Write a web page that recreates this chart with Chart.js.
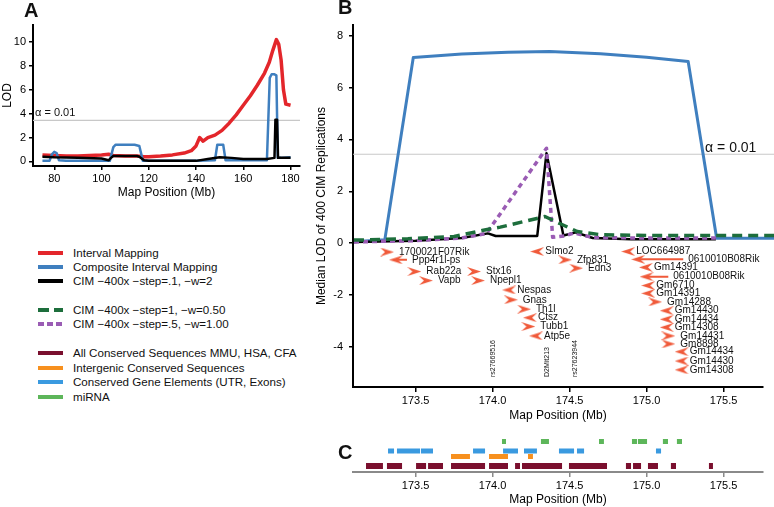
<!DOCTYPE html>
<html lang="en">
<head>
  <meta charset="UTF-8">
  <title>QTL scan, chromosome 2</title>
  <script src="https://cdn.jsdelivr.net/npm/chart.js"></script>
  <style>
    body { margin: 0; background: #fff; font-family: "Liberation Sans", Arial, sans-serif; color: #111; }
    #page { position: relative; width: 774px; height: 507px; overflow: hidden; }
    canvas { position: absolute; }
    .tag { position: absolute; font-weight: bold; font-size: 20px; line-height: 20px; }
    .leg { position: absolute; left: 38px; font-size: 11.6px; line-height: 12px; white-space: nowrap; }
    .leg i { display: inline-block; width: 25px; height: 4px; vertical-align: middle; margin-right: 10px; position: relative; top: -1px; }
  </style>
</head>
<body>
<div id="page">
  <canvas id="chartA" width="310" height="210" style="left:0;top:0"></canvas>
  <canvas id="chartB" width="474" height="425" style="left:300px;top:0"></canvas>
  <canvas id="chartC" width="474" height="82" style="left:300px;top:425px"></canvas>

  <div class="tag" style="left:24px;top:0">A</div>
  <div class="tag" style="left:338px;top:-3px">B</div>
  <div class="tag" style="left:338px;top:442px">C</div>

  <div class="leg" style="top:247px"><i style="background:#e3262b"></i>Interval Mapping</div>
  <div class="leg" style="top:261px"><i style="background:#3f7fbf"></i>Composite Interval Mapping</div>
  <div class="leg" style="top:275px"><i style="background:#000"></i>CIM −400x −step=.1, −w=2</div>
  <div class="leg" style="top:304px"><i style="background:repeating-linear-gradient(90deg,#1d6e3c 0 11px,transparent 11px 16px)"></i>CIM −400x −step=1,  −w=0.50</div>
  <div class="leg" style="top:318px"><i style="background:repeating-linear-gradient(90deg,#9a5cb4 0 6px,transparent 6px 9px)"></i>CIM −400x −step=.5, −w=1.00</div>
  <div class="leg" style="top:347px"><i style="background:#7a0f2e"></i>All Conserved Sequences MMU, HSA, CFA</div>
  <div class="leg" style="top:362px"><i style="background:#f7901e"></i>Intergenic Conserved Sequences</div>
  <div class="leg" style="top:376px"><i style="background:#3a9ae0"></i>Conserved Gene Elements (UTR, Exons)</div>
  <div class="leg" style="top:391px"><i style="background:#5db65a"></i>miRNA</div>
</div>

<script>
  const ALPHA = 3.43;

  // Panel A: whole-chromosome scan (position in Mb, LOD)
  const imPos = [75, 80, 85, 90, 95, 100, 103, 105, 110, 115, 118, 120, 125, 130, 135, 138, 140, 141.5, 143, 145, 148, 151, 154, 157, 160, 163, 166, 169, 171, 172.5, 174, 175, 176, 177, 178, 180];
  const imLod = [0.55, 0.5, 0.45, 0.45, 0.5, 0.55, 0.6, 0.5, 0.45, 0.45, 0.4, 0.4, 0.45, 0.55, 0.7, 0.9, 1.3, 2.0, 1.7, 2.0, 2.2, 2.6, 3.2, 3.9, 4.7, 5.5, 6.4, 7.4, 8.3, 9.3, 10.2, 9.8, 8.5, 6.0, 4.8, 4.7];
  const cimPos = [75, 78, 79, 80, 81, 82, 85, 90, 95, 100, 103.5, 105, 106, 114, 116, 117.5, 120, 130, 140, 148, 149, 151.5, 152.5, 160, 170, 171.2, 172, 173, 174, 174.6, 176, 180];
  const cimLod = [0.05, 0.05, 0.6, 0.8, 0.7, 0.1, 0.05, 0.05, 0.05, 0.05, 0.05, 1.2, 1.4, 1.4, 1.3, 0.05, 0.05, 0.05, 0.05, 0.1, 1.4, 1.4, 0.1, 0.1, 0.1, 7.0, 7.3, 7.3, 7.2, 0.3, 0.3, 0.35];
  const c400Pos = [75, 80, 90, 100, 103, 104, 105, 115, 116, 118, 120, 130, 140, 145, 150, 155, 160, 170, 173.2, 173.6, 174.3, 174.7, 176, 180];
  const c400Lod = [0.4, 0.35, 0.3, 0.25, 0.1, 0.3, 0.45, 0.45, 0.4, 0.1, 0.05, 0.05, 0.05, 0.2, 0.35, 0.3, 0.2, 0.2, 0.3, 3.5, 3.5, 0.3, 0.3, 0.3];
  const aTicksX = [80, 100, 120, 140, 160, 180];
  const aTicksY = [0, 2, 4, 6, 8, 10];

  // Panel B: zoom on the peak, median LOD of the replications
  const bCimPos = [173.10, 173.30, 173.485, 173.8, 174.1, 174.37, 174.7, 175.0, 175.27, 175.455, 175.83];
  const bCimLod = [0.06, 0.13, 7.16, 7.29, 7.36, 7.39, 7.3, 7.17, 7.0, 0.19, 0.19];
  const bBlackPos = [173.10, 173.5, 173.8, 173.97, 174.02, 174.29, 174.35, 174.46, 174.54, 174.65, 174.9, 175.45];
  const bBlackLod = [0.05, 0.1, 0.2, 0.38, 0.28, 0.28, 3.47, 0.3, 0.42, 0.2, 0.15, 0.15];
  const bPurplePos = [173.10, 173.5, 173.8, 173.96, 174.35, 174.39, 174.47, 174.53, 174.65, 175.0, 175.45];
  const bPurpleLod = [0.05, 0.1, 0.2, 0.38, 3.66, 0.23, 0.28, 0.4, 0.22, 0.2, 0.2];
  const bGreenPos = [173.10, 173.45, 173.75, 173.94, 174.05, 174.34, 174.44, 174.55, 174.7, 175.0, 175.83];
  const bGreenLod = [0.12, 0.17, 0.26, 0.5, 0.62, 1.03, 0.75, 0.45, 0.33, 0.3, 0.3];
  const bTicksX = [173.5, 174.0, 174.5, 175.0, 175.5];
  const bTicksY = [-4, -2, 0, 2, 4, 6, 8];

  // genes under the peak: arrow position (Mb), gene end for long ones, row (LOD units), strand
  const geneName = ['1700021F07Rik', 'Ppp4r1l-ps', 'Rab22a', 'Vapb', 'Stx16', 'Npepl1', 'Nespas', 'Gnas', 'Th1l', 'Ctsz', 'Tubb1', 'Atp5e',
    'Slmo2', 'Zfp831', 'Edn3', 'LOC664987', '0610010B08Rik', 'Gm14391', '0610010B08Rik', 'Gm6710', 'Gm14391', 'Gm14288',
    'Gm14430', 'Gm14434', 'Gm14308', 'Gm14431', 'Gm8898', 'Gm14434', 'Gm14430', 'Gm14308'];
  const genePos = [173.314, 173.373, 173.492, 173.567, 173.879, 173.905, 174.108, 174.118, 174.204, 174.243, 174.232, 174.282,
    174.29, 174.47, 174.542, 174.881, 174.946, 174.996, 175.0, 175.011, 175.011, 175.055,
    175.131, 175.131, 175.131, 175.141, 175.141, 175.228, 175.228, 175.228];
  const geneEnd = [null, 173.444, null, null, null, null, null, null, null, null, null, null,
    null, null, null, null, 175.238, null, 175.141, null, null, null,
    null, null, null, null, null, null, null, null];
  const geneLod = [-0.34, -0.64, -1.09, -1.44, -1.09, -1.44, -1.8, -2.18, -2.54, -2.87, -3.21, -3.57,
    -0.32, -0.64, -0.96, -0.32, -0.62, -0.93, -1.29, -1.63, -1.93, -2.26,
    -2.6, -2.93, -3.24, -3.57, -3.88, -4.18, -4.54, -4.88];
  const geneDir = [1, -1, 1, 1, 1, 1, -1, 1, 1, -1, 1, -1,
    -1, 1, 1, -1, -1, -1, -1, -1, -1, 1,
    -1, -1, -1, 1, 1, -1, -1, -1];
  const markerName = ['rs27669516', 'D2Mit213', 'rs27623944'];
  const markerPos = [174.0, 174.353, 174.535];

  // Panel C: conserved elements, [start, end] in Mb
  const consAll = [[173.178, 173.288], [173.314, 173.412], [173.503, 173.568], [173.581, 173.678], [173.730, 173.951], [173.977, 174.100],
    [174.146, 174.178], [174.191, 174.451], [174.496, 174.743], [174.866, 174.899], [174.912, 174.964], [175.009, 175.074],
    [175.158, 175.191], [175.405, 175.431]];
  const consInter = [[173.730, 173.853], [173.977, 174.100], [174.230, 174.262]];
  const consGene = [[173.321, 173.360], [173.379, 173.529], [173.535, 173.613], [173.873, 173.951], [174.068, 174.165],
    [174.204, 174.288], [174.431, 174.529], [174.548, 174.594], [175.061, 175.094]];
  const mirna = [[174.061, 174.087], [174.314, 174.366], [174.691, 174.723], [174.905, 174.938], [174.944, 175.003],
    [175.106, 175.139], [175.197, 175.230]];

  const RED = '#e3262b', BLUE = '#3f7fbf', GREEN = '#1d6e3c', PURPLE = '#9a5cb4', ARROW = '#f05a3a';
  const FONT = '"Liberation Sans", Arial, sans-serif';
  Chart.defaults.font.family = FONT;
  Chart.defaults.color = '#000';

  const pts = (xs, ys) => xs.map((x, i) => ({ x: x, y: ys[i] }));
  const segs = (list, row) => list.flatMap(s => [{ x: s[0], y: row }, { x: s[1], y: row }, { x: s[1], y: null }]);
  const fixSize = n => s => { if (s.isHorizontal()) s.height = n; else s.width = n; };
  const useTicks = arr => s => { s.ticks = arr.map(v => ({ value: v })); };

  function arrowImg(dir) {
    const c = document.createElement('canvas');
    c.width = 14; c.height = 9;
    const g = c.getContext('2d');
    g.fillStyle = ARROW;
    g.beginPath();
    if (dir > 0) { g.moveTo(14, 4.5); g.lineTo(0, 0); g.lineTo(5, 4.5); g.lineTo(0, 9); }
    else { g.moveTo(0, 4.5); g.lineTo(14, 0); g.lineTo(9, 4.5); g.lineTo(14, 9); }
    g.closePath();
    g.fill();
    return c;
  }
  const arrowR = arrowImg(1), arrowL = arrowImg(-1);

  function axis(color, tickLen) {
    return {
      grid: { display: true, drawOnChartArea: false, drawTicks: true, tickLength: tickLen, color: color, lineWidth: 1.5 },
      border: { display: true, color: color, width: 2 }
    };
  }
  const base = {
    responsive: false,
    animation: false,
    events: [],
    elements: { point: { radius: 0 }, line: { tension: 0, borderJoinStyle: 'round' } },
    plugins: { legend: { display: false }, tooltip: { enabled: false } }
  };

  // ---- A
  new Chart(document.getElementById('chartA'), {
    type: 'line',
    data: {
      datasets: [
        { data: pts(c400Pos, c400Lod), borderColor: '#000', borderWidth: 2.5 },
        { data: pts(cimPos, cimLod), borderColor: BLUE, borderWidth: 2.5 },
        { data: pts(imPos, imLod), borderColor: RED, borderWidth: 3.5 },
        { data: [{ x: 71, y: ALPHA }, { x: 184, y: ALPHA }], borderColor: '#c8c8c8', borderWidth: 1.2 }
      ]
    },
    options: Object.assign({}, base, {
      layout: { padding: { top: 25, right: 10, left: 0, bottom: 0 } },
      scales: {
        x: Object.assign(axis('#000', 4), {
          type: 'linear', min: 71, max: 184,
          afterFit: fixSize(44), afterBuildTicks: useTicks(aTicksX),
          ticks: { font: { size: 11 }, padding: 2, maxRotation: 0, autoSkip: false },
          title: { display: true, text: 'Map Position (Mb)', font: { size: 12 }, padding: { top: 0, bottom: 10 } }
        }),
        y: Object.assign(axis('#000', 4), {
          min: -0.38, max: 11.42,
          afterFit: fixSize(33), afterBuildTicks: useTicks(aTicksY),
          ticks: { font: { size: 11 }, padding: 3 },
          title: { display: true, text: 'LOD', font: { size: 12 }, padding: 0 }
        })
      }
    }),
    plugins: [{
      id: 'alphaA',
      afterDatasetsDraw(chart) {
        const { ctx, scales: { x, y } } = chart;
        ctx.save();
        ctx.font = '11px ' + FONT;
        ctx.fillStyle = '#111';
        ctx.fillText('α = 0.01', x.left + 2, y.getPixelForValue(ALPHA) - 4);
        ctx.restore();
      }
    }]
  });

  // ---- B
  new Chart(document.getElementById('chartB'), {
    type: 'line',
    data: {
      datasets: [
        {
          data: pts(genePos, geneLod), showLine: false, pointRadius: 4,
          pointStyle: c => geneDir[c.dataIndex] > 0 ? arrowR : arrowL
        },
        {
          data: geneName.flatMap((n, i) => geneEnd[i] == null ? [] :
            [{ x: genePos[i], y: geneLod[i] }, { x: geneEnd[i], y: geneLod[i] }, { x: geneEnd[i], y: null }]),
          borderColor: ARROW, borderWidth: 2
        },
        { data: pts(bGreenPos, bGreenLod), borderColor: GREEN, borderWidth: 3.5, borderDash: [10, 6], clip: false },
        { data: pts(bPurplePos, bPurpleLod), borderColor: PURPLE, borderWidth: 3.5, borderDash: [5, 4], clip: false },
        { data: pts(bBlackPos, bBlackLod), borderColor: '#000', borderWidth: 2.5, clip: false },
        { data: pts(bCimPos, bCimLod), borderColor: BLUE, borderWidth: 3, clip: false },
        { data: [{ x: 173.0935, y: ALPHA }, { x: 175.83, y: ALPHA }], borderColor: '#c8c8c8', borderWidth: 1.2, clip: false }
      ]
    },
    options: Object.assign({}, base, {
      layout: { padding: { top: 25, right: 11, left: 0, bottom: 0 } },
      scales: {
        x: Object.assign(axis('#000', 5), {
          type: 'linear', min: 173.0935, max: 175.756,
          afterFit: fixSize(38), afterBuildTicks: useTicks(bTicksX),
          ticks: { font: { size: 11 }, padding: 2, maxRotation: 0, autoSkip: false, callback: v => v.toFixed(1) },
          title: { display: true, text: 'Map Position (Mb)', font: { size: 12 }, padding: { top: 0, bottom: 2 } }
        }),
        y: Object.assign(axis('#000', 4), {
          min: -5.54, max: 8.41,
          afterFit: fixSize(53), afterBuildTicks: useTicks(bTicksY),
          ticks: { font: { size: 11 }, padding: 6 },
          title: { display: true, text: 'Median LOD of 400 CIM Replications', font: { size: 12 }, padding: { top: 14 } }
        })
      }
    }),
    plugins: [{
      id: 'geneLabels',
      afterDatasetsDraw(chart) {
        const { ctx, scales: { x, y } } = chart;
        ctx.save();
        ctx.fillStyle = '#111';
        ctx.textBaseline = 'middle';
        ctx.font = '10px ' + FONT;
        geneName.forEach((n, i) => {
          const tx = geneEnd[i] != null ? x.getPixelForValue(geneEnd[i]) + 5
            : x.getPixelForValue(genePos[i]) + (geneDir[i] > 0 ? 12 : 8);
          ctx.fillText(n, tx, y.getPixelForValue(geneLod[i]));
        });
        ctx.font = '7px ' + FONT;
        markerName.forEach((n, i) => {
          ctx.save();
          ctx.translate(x.getPixelForValue(markerPos[i]), y.bottom - 10);
          ctx.rotate(-Math.PI / 2);
          ctx.fillText(n, 0, 0);
          ctx.restore();
        });
        ctx.font = '14px ' + FONT;
        ctx.textBaseline = 'alphabetic';
        ctx.fillText('α = 0.01', x.getPixelForValue(175.38), y.getPixelForValue(ALPHA) - 2);
        ctx.restore();
      }
    }]
  });

  // ---- C
  new Chart(document.getElementById('chartC'), {
    type: 'line',
    data: {
      datasets: [
        { data: segs(mirna, 30.5), borderColor: '#5db65a', borderWidth: 5, borderCapStyle: 'butt' },
        { data: segs(consGene, 21), borderColor: '#3a9ae0', borderWidth: 5, borderCapStyle: 'butt' },
        { data: segs(consInter, 15.5), borderColor: '#f7901e', borderWidth: 5, borderCapStyle: 'butt' },
        { data: segs(consAll, 6), borderColor: '#7a0f2e', borderWidth: 6, borderCapStyle: 'butt' }
      ]
    },
    options: Object.assign({}, base, {
      layout: { padding: { top: 7, right: 11, left: 53, bottom: 0 } },
      scales: {
        x: Object.assign(axis('#8a8a8a', 5), {
          type: 'linear', min: 173.0935, max: 175.756,
          afterFit: fixSize(35), afterBuildTicks: useTicks(bTicksX),
          ticks: { font: { size: 11 }, padding: 2, maxRotation: 0, autoSkip: false, callback: v => v.toFixed(1) },
          title: { display: true, text: 'Map Position (Mb)', font: { size: 12 }, padding: { top: 0, bottom: 0 } }
        }),
        y: { display: false, min: 0, max: 40 }
      }
    })
  });
</script>
</body>
</html>
